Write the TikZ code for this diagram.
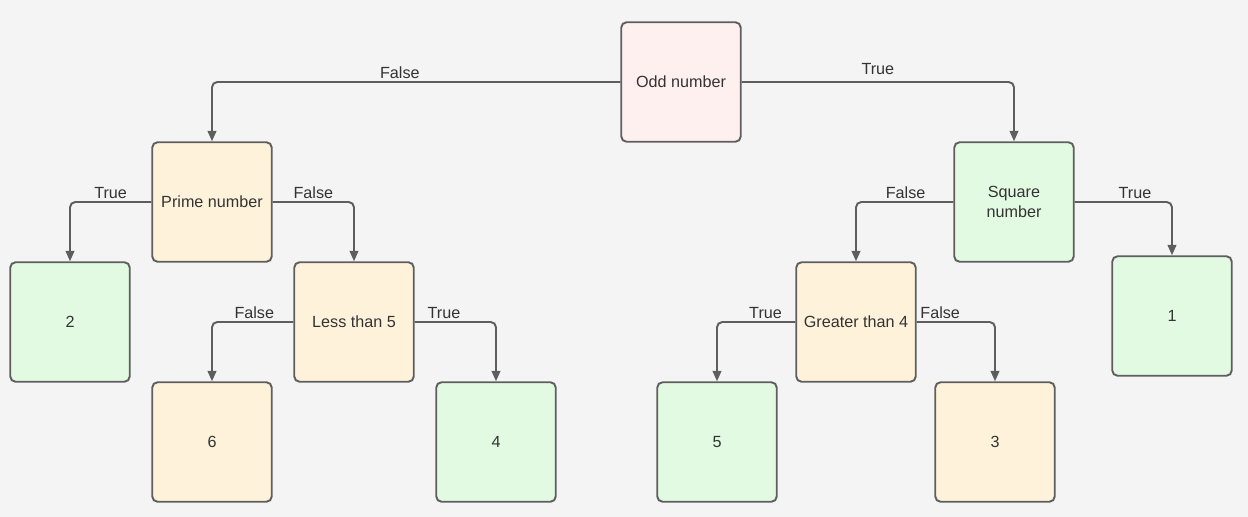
\documentclass[tikz,border=0pt]{standalone}
\usepackage{fontspec}
\setmainfont{Liberation Sans}
\usepackage{xcolor}
\usepackage{tikz}
\usetikzlibrary{arrows.meta,calc,positioning}
\definecolor{bgcol}{HTML}{F4F4F4}
\definecolor{edgecol}{HTML}{5E5E5E}
\definecolor{pinkcol}{HTML}{FFF0F0}
\definecolor{yellowcol}{HTML}{FFF2DB}
\definecolor{greencol}{HTML}{E2FAE2}
\tikzset{%
	box/.style      = {draw=edgecol, line width=1.1pt, rectangle, rounded corners=3pt, minimum width=2.39cm, minimum height=2.39cm, align=center, text=black!80, font=\fontsize{9.2}{11}\selectfont},
	root/.style     = {box, fill=pinkcol},
	test/.style     = {box, fill=yellowcol},
	leaf/.style     = {box, fill=greencol},
	arrow/.style    = {line width=1.1pt, draw=edgecol, rounded corners=3pt, -{Triangle[length=6pt,width=5pt]}},
	lbl/.style      = {above, inner sep=1.5pt, text=black!80, font=\fontsize{9.2}{11}\selectfont},
}

\begin{document}
\begin{tikzpicture}[x=0.02cm, y=-0.02cm]
	\fill[bgcol] (0,0) rectangle (1248,517);
	\useasboundingbox (0,0) rectangle (1248,517);

	\node[root] (odd) at (681,82) {Odd number};
	\node[test] (prime) at (212,202) {Prime number};
	\node[leaf] (square) at (1014,202) {Square\\number};
	\node[leaf] (two) at (70,322) {2};
	\node[test] (less) at (354,322) {Less than 5};
	\node[test] (greater) at (856,322) {Greater than 4};
	\node[leaf] (one) at (1172,316) {1};
	\node[test] (six) at (212,442) {6};
	\node[leaf] (four) at (496,442) {4};
	\node[leaf] (five) at (717,442) {5};
	\node[test] (three) at (995,442) {3};

	\draw[arrow] (odd.west) -| node[lbl,pos=0.27] {False} (prime.north);
	\draw[arrow] (odd.east) -| node[lbl,pos=0.25,yshift=2pt] {True} (square.north);
	\draw[arrow] (prime.west) -| node[lbl,pos=0.25] {True} (two.north);
	\draw[arrow] (prime.east) -| node[lbl,pos=0.25] {False} (less.north);
	\draw[arrow] (less.west) -| node[lbl,pos=0.24] {False} (six.north);
	\draw[arrow] (less.east) -| node[lbl,pos=0.18] {True} (four.north);
	\draw[arrow] (square.west) -| node[lbl,pos=0.245] {False} (greater.north);
	\draw[arrow] (square.east) -| node[lbl,pos=0.31] {True} (one.north);
	\draw[arrow] (greater.west) -| node[lbl,pos=0.19] {True} (five.north);
	\draw[arrow] (greater.east) -| node[lbl,pos=0.15] {False} (three.north);
\end{tikzpicture}
\end{document}
